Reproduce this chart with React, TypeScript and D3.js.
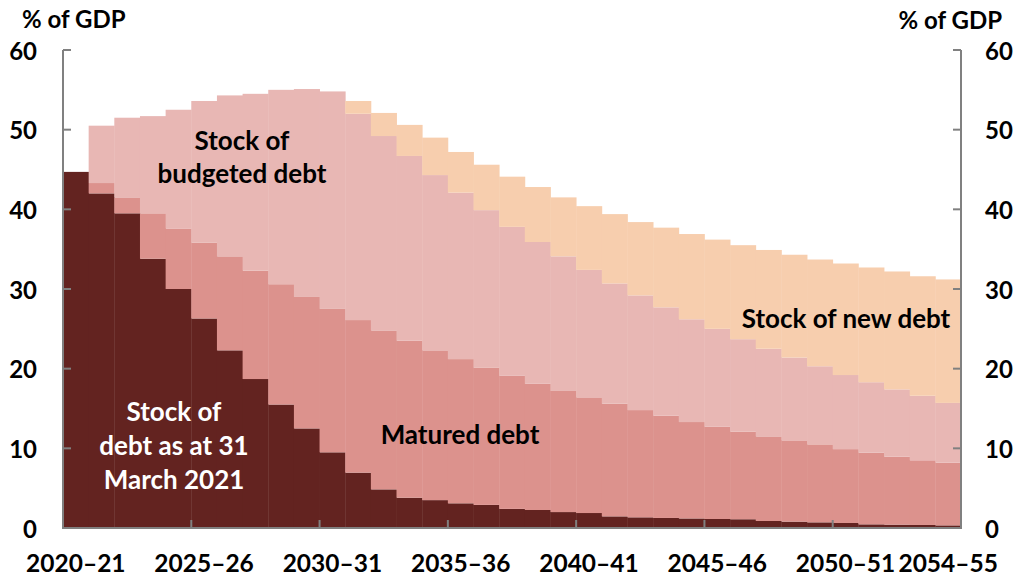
import React from 'react';
import * as d3 from 'd3';

const years = [
  '2020–21', '2021–22', '2022–23', '2023–24', '2024–25', '2025–26', '2026–27',
  '2027–28', '2028–29', '2029–30', '2030–31', '2031–32', '2032–33', '2033–34',
  '2034–35', '2035–36', '2036–37', '2037–38', '2038–39', '2039–40', '2040–41',
  '2041–42', '2042–43', '2043–44', '2044–45', '2045–46', '2046–47', '2047–48',
  '2048–49', '2049–50', '2050–51', '2051–52', '2052–53', '2053–54', '2054–55',
];

// % of GDP
const initialStock = [
  44.7, 42.0, 39.5, 33.8, 30.0, 26.3, 22.3, 18.7, 15.5, 12.5, 9.5, 6.95, 4.85, 3.8,
  3.5, 3.1, 2.9, 2.4, 2.26, 2.0, 1.88, 1.46, 1.34, 1.26, 1.2, 1.13, 1.1, 0.88,
  0.8, 0.71, 0.63, 0.46, 0.42, 0.38, 0.33,
];
const maturedDebt = [
  0, 1.3, 2.0, 5.7, 7.6, 9.5, 11.8, 13.6, 15.1, 16.5, 18.0, 19.15, 19.95, 19.7,
  18.8, 18.1, 17.2, 16.7, 15.84, 15.2, 14.52, 14.14, 13.46, 12.84, 12.1, 11.57,
  11.0, 10.62, 10.2, 9.79, 9.27, 8.99, 8.53, 8.12, 7.87,
];
const budgetedDebt = [
  0, 7.2, 10.0, 12.2, 14.9, 17.8, 20.2, 22.2, 24.4, 26.1, 27.3, 25.9, 24.4, 23.2,
  22.0, 20.9, 19.8, 18.7, 17.8, 16.9, 16.0, 15.1, 14.4, 13.6, 12.9, 12.3, 11.6,
  11.0, 10.4, 9.8, 9.3, 8.85, 8.45, 8.1, 7.5,
];
const newDebt = [
  0, 0, 0, 0, 0, 0, 0, 0, 0, 0, 0, 1.6, 2.9, 3.9, 4.7, 5.1, 5.7, 6.3, 6.9, 7.4,
  8.0, 8.7, 9.2, 10.0, 10.7, 11.2, 11.8, 12.4, 12.9, 13.4, 14.0, 14.4, 14.8, 15.0,
  15.5,
];

const yTicks = [0, 10, 20, 30, 40, 50, 60];
const xLabels = ['2020–21', '2025–26', '2030–31', '2035–36', '2040–41', '2045–46', '2050–51', '2054–55'];
const xTickMarks = ['2025–26', '2030–31', '2035–36', '2040–41', '2045–46', '2050–51'];

const keys = ['initial', 'matured', 'budgeted', 'fresh'];
const colors: Record<string, string> = {
  initial: '#632320',
  matured: '#dc928d',
  budgeted: '#e8b7b4',
  fresh: '#f7ceae',
};

const W = 1023;
const H = 578;
const dms = { left: 63, right: 961, top: 50, bottom: 528 };
const FONT = 'Lato, "Open Sans", sans-serif';
const AXIS = '#808080';

const App = () => {
  const rows = years.map((year, i) => ({
    year,
    initial: initialStock[i],
    matured: maturedDebt[i],
    budgeted: budgetedDebt[i],
    fresh: newDebt[i],
  }));

  const series = d3.stack<any>().keys(keys)(rows);

  const xScale = d3.scaleBand<string>()
    .domain(years)
    .range([dms.left, dms.right])
    .paddingInner(0)
    .paddingOuter(0);

  const yScale = d3.scaleLinear()
    .domain([0, 60])
    .range([dms.bottom, dms.top]);

  const bw = xScale.bandwidth();

  const label = (lines: string[], cx: number, y0: number, fill: string, gap = 34) => (
    <text x={cx} y={y0} textAnchor="middle" fill={fill} fontSize={26} fontWeight="bold" fontFamily={FONT}>
      {lines.map((l, i) => (
        <tspan key={l} x={cx} y={y0 + i * gap}>{l}</tspan>
      ))}
    </text>
  );

  return (
    <svg width={W} height={H} style={{ position: 'absolute', left: 0, top: 0, background: '#fff' }}>
      {series.map((s) => (
        <g key={s.key} fill={colors[s.key]}>
          {s.map((d: any) => (
            d[1] - d[0] > 0 ? (
              <rect
                key={d.data.year}
                x={xScale(d.data.year)}
                width={bw + 0.4}
                y={yScale(d[1])}
                height={yScale(d[0]) - yScale(d[1])}
              />
            ) : null
          ))}
        </g>
      ))}

      {/* axes */}
      <g stroke={AXIS} strokeWidth={2} fill="none">
        <line x1={dms.left} x2={dms.left} y1={dms.top} y2={dms.bottom + 1} />
        <line x1={dms.right} x2={dms.right} y1={dms.top} y2={dms.bottom + 1} />
        <line x1={dms.left - 1} x2={dms.right + 1} y1={dms.bottom} y2={dms.bottom} />
        {yTicks.map((t) => (
          <g key={t}>
            <line x1={dms.left} x2={dms.left + 8} y1={yScale(t)} y2={yScale(t)} />
            <line x1={dms.right - 8} x2={dms.right} y1={yScale(t)} y2={yScale(t)} />
          </g>
        ))}
        {xTickMarks.map((t) => (
          <line key={t} x1={xScale(t)} x2={xScale(t)} y1={dms.bottom} y2={dms.bottom - 8} />
        ))}
      </g>

      <g fontFamily={FONT} fontWeight="bold" fontSize={24} fill="#000">
        {yTicks.map((t) => (
          <g key={t}>
            <text x={37} y={yScale(t)} textAnchor="end" dominantBaseline="central">{t}</text>
            <text x={985} y={yScale(t)} textAnchor="start" dominantBaseline="central">{t}</text>
          </g>
        ))}
        {xLabels.map((l) => (
          <text key={l} x={(xScale(l) as number) + bw / 2} y={572} textAnchor="middle" fontSize={24.5}>{l}</text>
        ))}
        <text x={22} y={28}>% of GDP</text>
        <text x={1002} y={29} textAnchor="end">% of GDP</text>
      </g>

      {label(['Stock of', 'budgeted debt'], 242, 150, '#000', 33)}
      {label(['Stock of', 'debt as at 31', 'March 2021'], 174, 421, '#fff')}
      {label(['Matured debt'], 460, 444, '#000')}
      {label(['Stock of new debt'], 846, 328, '#000')}
    </svg>
  );
};

export default App;
